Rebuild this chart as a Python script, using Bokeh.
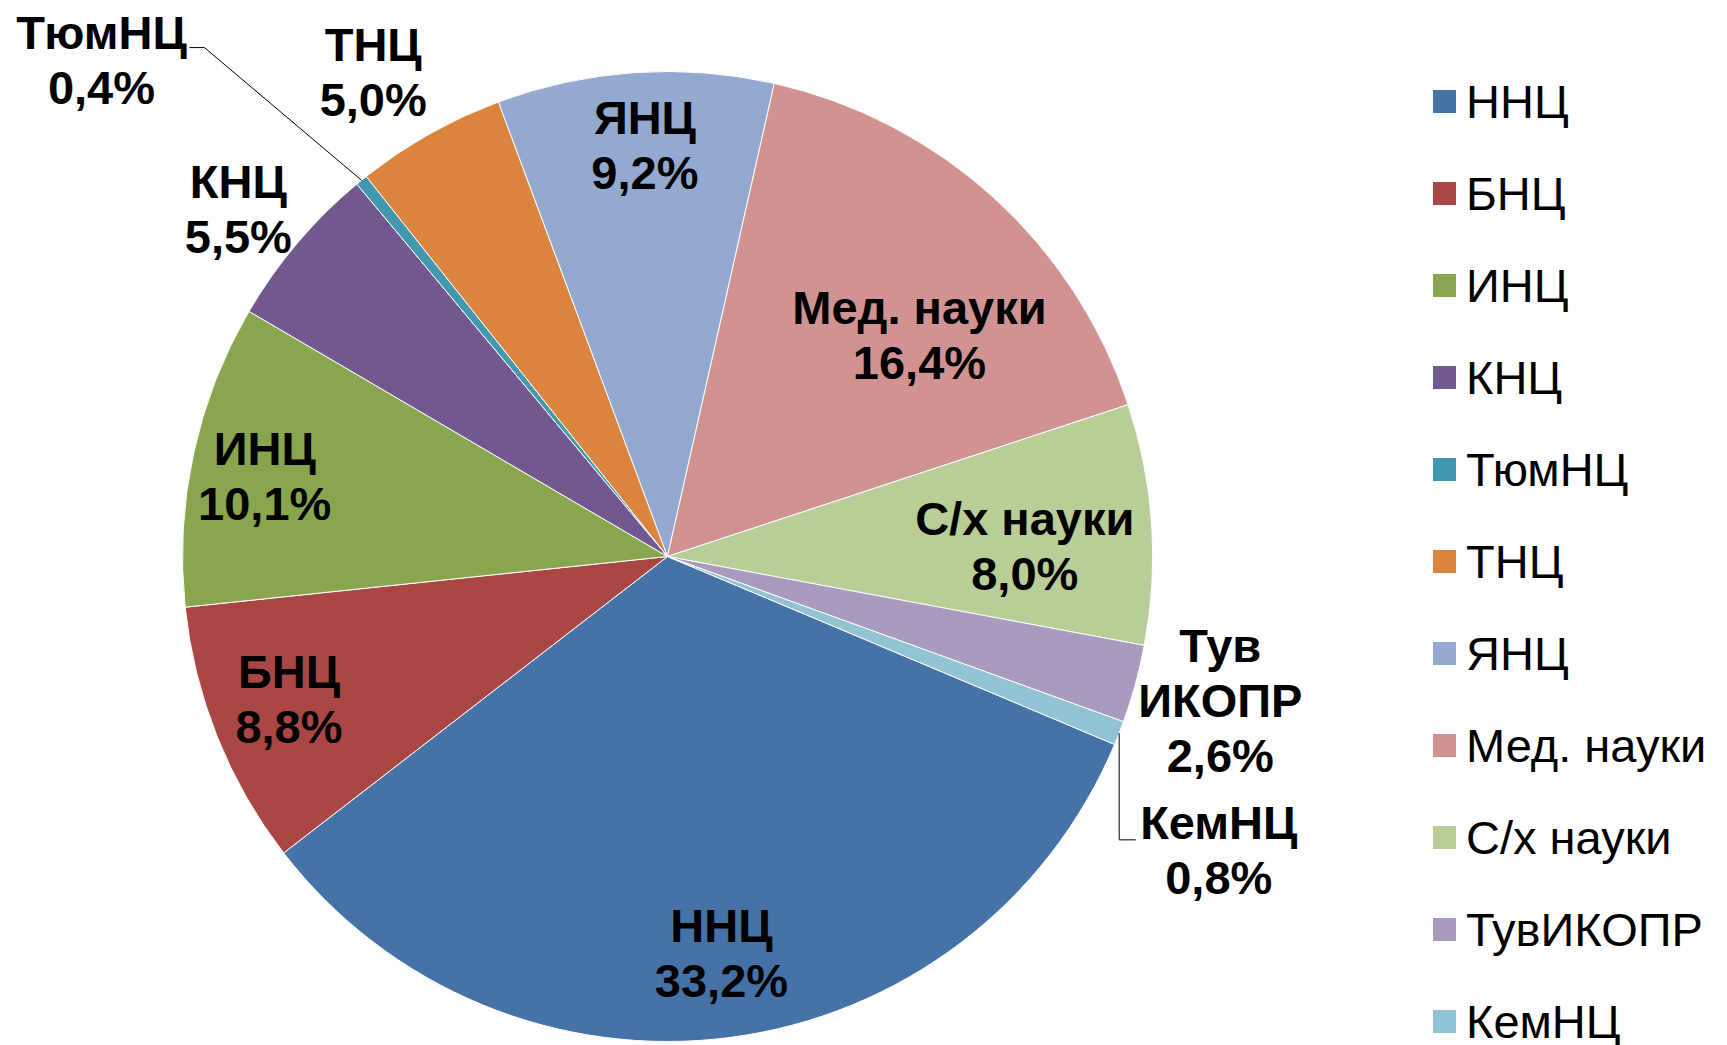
import numpy as np
from bokeh.plotting import figure
from bokeh.models import Range1d, Legend, LegendItem, ColumnDataSource
from bokeh.core.properties import value
from bokeh.embed import file_html
from bokeh.resources import INLINE

# ---------------- data ----------------
categories = ["ННЦ", "БНЦ", "ИНЦ", "КНЦ", "ТюмНЦ", "ТНЦ", "ЯНЦ",
              "Мед. науки", "С/х науки", "ТувИКОПР", "КемНЦ"]
shares = [33.2, 8.8, 10.1, 5.5, 0.4, 5.0, 9.2, 16.4, 8.0, 2.6, 0.8]
label_names = [["ННЦ"], ["БНЦ"], ["ИНЦ"], ["КНЦ"], ["ТюмНЦ"], ["ТНЦ"], ["ЯНЦ"],
               ["Мед. науки"], ["С/х науки"], ["Тув", "ИКОПР"], ["КемНЦ"]]
colors = ["#4572A7", "#AA4643", "#89A54E", "#71588F", "#4198AF", "#DB843D",
          "#93A9CF", "#D19392", "#B9CD96", "#A99BBD", "#92C3D5"]

# ---------------- layout ----------------
W, H = 1727, 1045
CX, CY, R = 667.0, 556.0, 485.0          # screen px
FIRST = 22.8                              # first slice angle, deg clockwise from east
LS = 55.0                                 # label line spacing
FONT = "Liberation Sans"
# label placement: radius fraction and angular nudge (deg) per slice
lab_r = [0.826, 0.834, 0.847, 1.138, 1.553, 1.168, 0.850, 0.691, 0.737, 1.178, 1.288]
lab_da = [-0.3, 1.2, -0.85, -1.3, -9.6, -1.9, 0.7, 6.5, 2.1, -0.6, 6.7]

total = float(sum(shares))
cum = FIRST + 360.0 * np.concatenate([[0.0], np.cumsum(shares)]) / total
a0, a1 = cum[:-1], cum[1:]
mid = (a0 + a1) / 2.0

src = ColumnDataSource(dict(
    cat=categories, share=shares, color=colors,
    start=-np.radians(a1), end=-np.radians(a0),
))

p = figure(width=W, height=H, output_backend="svg", toolbar_location=None,
           x_range=Range1d(0, W), y_range=Range1d(-H, 0),
           min_border=0, outline_line_color=None)
p.axis.visible = False
p.grid.visible = False
p.background_fill_color = "white"

wr = p.wedge(x=CX, y=-CY, radius=R, start_angle="start", end_angle="end",
             fill_color="color", line_color="white", line_width=1, source=src)

# ---------------- data labels ----------------
tx, ty, tt = [], [], []
for i, v in enumerate(shares):
    ang = np.radians(mid[i] + lab_da[i])
    lx = CX + lab_r[i] * R * np.cos(ang)
    ly = CY + lab_r[i] * R * np.sin(ang)
    lines = label_names[i] + [f"{v:.1f}%".replace(".", ",")]
    n = len(lines)
    for j, s in enumerate(lines):
        tx.append(lx)
        ty.append(-(ly + (j - (n - 1) / 2.0) * LS))
        tt.append(s)
p.text(x=tx, y=ty, text=tt, text_align="center", text_baseline="middle",
       text_font=value(FONT), text_font_style="bold", text_font_size="47px",
       text_color="black")

# leader lines for the two thin slices
def edge(i):
    a = np.radians(mid[i])
    return CX + R * np.cos(a), CY + R * np.sin(a)

def label_pos(i):
    a = np.radians(mid[i] + lab_da[i])
    return CX + lab_r[i] * R * np.cos(a), CY + lab_r[i] * R * np.sin(a)

i_t = categories.index("ТюмНЦ")
ex, ey = edge(i_t)
lx, ly = label_pos(i_t)
p.line(x=[ex, lx + 103, lx + 88], y=[-ey, -(ly - 12), -(ly - 12)],
       line_color="black", line_width=1)

i_k = categories.index("КемНЦ")
ex, ey = edge(i_k)
lx, ly = label_pos(i_k)
yb = ly - LS / 2 + 17
p.line(x=[ex, ex, lx - 83], y=[-ey, -yb, -yb], line_color="black", line_width=1)

# ---------------- legend ----------------
items = [LegendItem(label=c, renderers=[wr], index=i) for i, c in enumerate(categories)]
legend = Legend(items=items, location=(1429, -7), orientation="vertical",
                glyph_width=30, glyph_height=30, label_height=62, spacing=30,
                padding=0, margin=0, label_standoff=7,
                label_text_font=FONT, label_text_font_size="47px",
                label_text_color="black",
                border_line_color=None, background_fill_alpha=0)
p.add_layout(legend)

open("out.html", "w").write(file_html(p, INLINE))
